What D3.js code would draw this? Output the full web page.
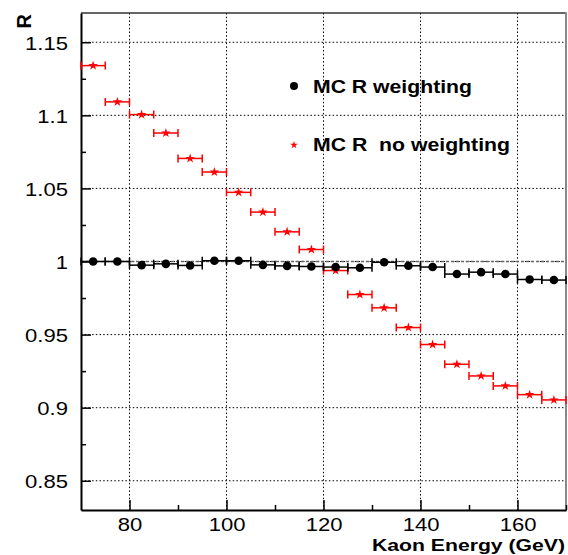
<!DOCTYPE html>
<html>
<head>
<meta charset="utf-8">
<script src="https://cdn.jsdelivr.net/npm/d3@7"></script>
<style>
html,body{margin:0;padding:0;background:#fff;}
svg{display:block;}
</style>
</head>
<body>
<svg id="chart" width="568" height="555"></svg>
<script>
// ---- data ----
const binCenters = [72.5, 77.5, 82.5, 87.5, 92.5, 97.5, 102.5, 107.5, 112.5, 117.5,
                    122.5, 127.5, 132.5, 137.5, 142.5, 147.5, 152.5, 157.5, 162.5, 167.5];
const binHalfWidth = 2.5;
const rWeighting = [1.000, 1.000, 0.9975, 0.9984, 0.9973, 1.0005, 1.0005, 0.9977, 0.9970, 0.9966,
                    0.9962, 0.9957, 0.9995, 0.9971, 0.9962, 0.9914, 0.9927, 0.9914, 0.9877, 0.9873];
const rNoWeighting = [1.134, 1.1092, 1.1005, 1.0879, 1.0705, 1.0612, 1.0473, 1.0338, 1.0203, 1.0082,
                      0.9938, 0.9774, 0.9683, 0.9548, 0.9432, 0.9297, 0.9217, 0.9149, 0.9089, 0.9053];
const xMajorTicks = [80, 100, 120, 140, 160];
const xMinorTicks = [90, 110, 130, 150, 170];
const yMajorTicks = [0.85, 0.9, 0.95, 1.0, 1.05, 1.1, 1.15];
const yMinorTicks = [0.875, 0.925, 0.975, 1.025, 1.075, 1.125];
const yTickLabels = ["0.85", "0.9", "0.95", "1", "1.05", "1.1", "1.15"];
const legendLabels = ["MC R weighting", "MC R  no weighting"];
const xTitle = "Kaon Energy (GeV)";
const yTitle = "R";

// ---- layout ----
const L = 81, R = 566, T = 13, B = 510;
const svg = d3.select("#chart");
const x = d3.scaleLinear().domain([70, 170]).range([L, R]);
const y = d3.scaleLinear().domain([0.83, 1.17]).range([B, T]);
const FONT = "'Liberation Sans', Arial, Helvetica, sans-serif";

function stretch(sel, f) {
  sel.each(function() {
    const w = this.getComputedTextLength();
    d3.select(this).attr("textLength", w * f).attr("lengthAdjust", "spacingAndGlyphs");
  });
}

// grid (dotted)
const grid = svg.append("g").attr("stroke", "#000").attr("stroke-width", 1)
  .attr("stroke-dasharray", "1.5,2.2");
grid.selectAll("line.gx").data(xMajorTicks).join("line")
  .attr("x1", d => x(d)).attr("x2", d => x(d)).attr("y1", T).attr("y2", B);
grid.selectAll("line.gy").data(yMajorTicks).join("line")
  .attr("x1", L).attr("x2", R).attr("y1", d => y(d)).attr("y2", d => y(d));

// dashed reference line at R = 1
svg.append("line").attr("x1", L).attr("x2", R).attr("y1", y(1)).attr("y2", y(1))
  .attr("stroke", "#666").attr("stroke-width", 1.3).attr("stroke-dasharray", "3,2");

// frame: top and right
svg.append("line").attr("x1", L).attr("x2", R).attr("y1", T).attr("y2", T)
  .attr("stroke", "#333").attr("stroke-width", 1.5);
svg.append("line").attr("x1", R).attr("x2", R).attr("y1", T - 0.7).attr("y2", B + 1)
  .attr("stroke", "#888").attr("stroke-width", 2);

// axes
const yAxis = svg.append("g").attr("transform", `translate(${L},0)`)
  .call(d3.axisLeft(y).tickValues(yMajorTicks).tickSizeInner(-10).tickSizeOuter(0)
    .tickPadding(13).tickFormat((d, i) => yTickLabels[i]));
svg.append("g").attr("transform", `translate(${L},0)`)
  .call(d3.axisLeft(y).tickValues(yMinorTicks).tickSizeInner(-5).tickSizeOuter(0).tickFormat(""))
  .call(g => g.select(".domain").remove());
const xAxis = svg.append("g").attr("transform", `translate(0,${B})`)
  .call(d3.axisBottom(x).tickValues(xMajorTicks).tickSizeInner(-10).tickSizeOuter(0)
    .tickPadding(7.5).tickFormat(d3.format("d")));
svg.append("g").attr("transform", `translate(0,${B})`)
  .call(d3.axisBottom(x).tickValues(xMinorTicks).tickSizeInner(-5).tickSizeOuter(0).tickFormat(""))
  .call(g => g.select(".domain").remove());

svg.selectAll(".domain").attr("stroke", "#000").attr("stroke-width", 2);
svg.selectAll(".tick line").attr("stroke", "#000").attr("stroke-width", 1.5);
svg.selectAll(".tick text").attr("font-family", FONT).attr("font-size", 19).attr("fill", "#000");
yAxis.selectAll(".tick text").attr("dy", "0.36em");
xAxis.selectAll(".tick text").attr("dy", "0.71em");
stretch(svg.selectAll(".tick text"), 1.16);

// axis titles
svg.append("text").attr("x", 565).attr("y", 551).attr("text-anchor", "end")
  .attr("font-family", FONT).attr("font-weight", "bold").attr("font-size", 17).text(xTitle)
  .attr("textLength", 193).attr("lengthAdjust", "spacingAndGlyphs");
svg.append("text").attr("transform", "translate(31,14) rotate(-90)").attr("text-anchor", "end")
  .attr("font-family", FONT).attr("font-weight", "bold").attr("font-size", 20).text(yTitle);

// error bars helper
function errBars(vals, color) {
  const g = svg.append("g").attr("stroke", color).attr("stroke-width", 1.5);
  g.selectAll("line.h").data(vals).join("line").attr("class", "h")
    .attr("x1", (d, i) => x(binCenters[i] - binHalfWidth))
    .attr("x2", (d, i) => x(binCenters[i] + binHalfWidth))
    .attr("y1", d => y(d)).attr("y2", d => y(d));
  g.selectAll("line.cl").data(vals).join("line").attr("class", "cl")
    .attr("x1", (d, i) => x(binCenters[i] - binHalfWidth))
    .attr("x2", (d, i) => x(binCenters[i] - binHalfWidth))
    .attr("y1", d => y(d) - 4).attr("y2", d => y(d) + 4);
  g.selectAll("line.cr").data(vals).join("line").attr("class", "cr")
    .attr("x1", (d, i) => x(binCenters[i] + binHalfWidth))
    .attr("x2", (d, i) => x(binCenters[i] + binHalfWidth))
    .attr("y1", d => y(d) - 4).attr("y2", d => y(d) + 4);
}

errBars(rNoWeighting, "#ff0000");
errBars(rWeighting, "#000000");

const star = d3.symbol(d3.symbolStar).size(28);
svg.append("g").selectAll("path").data(rNoWeighting).join("path")
  .attr("d", star)
  .attr("transform", (d, i) => `translate(${x(binCenters[i])},${y(d)})`)
  .attr("fill", "#ff0000");

svg.append("g").selectAll("circle").data(rWeighting).join("circle")
  .attr("cx", (d, i) => x(binCenters[i])).attr("cy", d => y(d)).attr("r", 4.3)
  .attr("fill", "#000");

// legend
svg.append("circle").attr("cx", 294).attr("cy", 86).attr("r", 4).attr("fill", "#000");
svg.append("path").attr("d", d3.symbol(d3.symbolStar).size(18)())
  .attr("transform", "translate(294,145)").attr("fill", "#ff0000");
svg.append("text").attr("x", 313).attr("y", 93).attr("font-family", FONT)
  .attr("font-weight", "bold").attr("font-size", 19).text(legendLabels[0])
  .attr("textLength", 159).attr("lengthAdjust", "spacingAndGlyphs");
svg.append("text").attr("x", 313).attr("y", 151).attr("font-family", FONT)
  .attr("font-weight", "bold").attr("font-size", 19).style("white-space", "pre").text(legendLabels[1])
  .attr("textLength", 197).attr("lengthAdjust", "spacingAndGlyphs");
</script>
</body>
</html>
